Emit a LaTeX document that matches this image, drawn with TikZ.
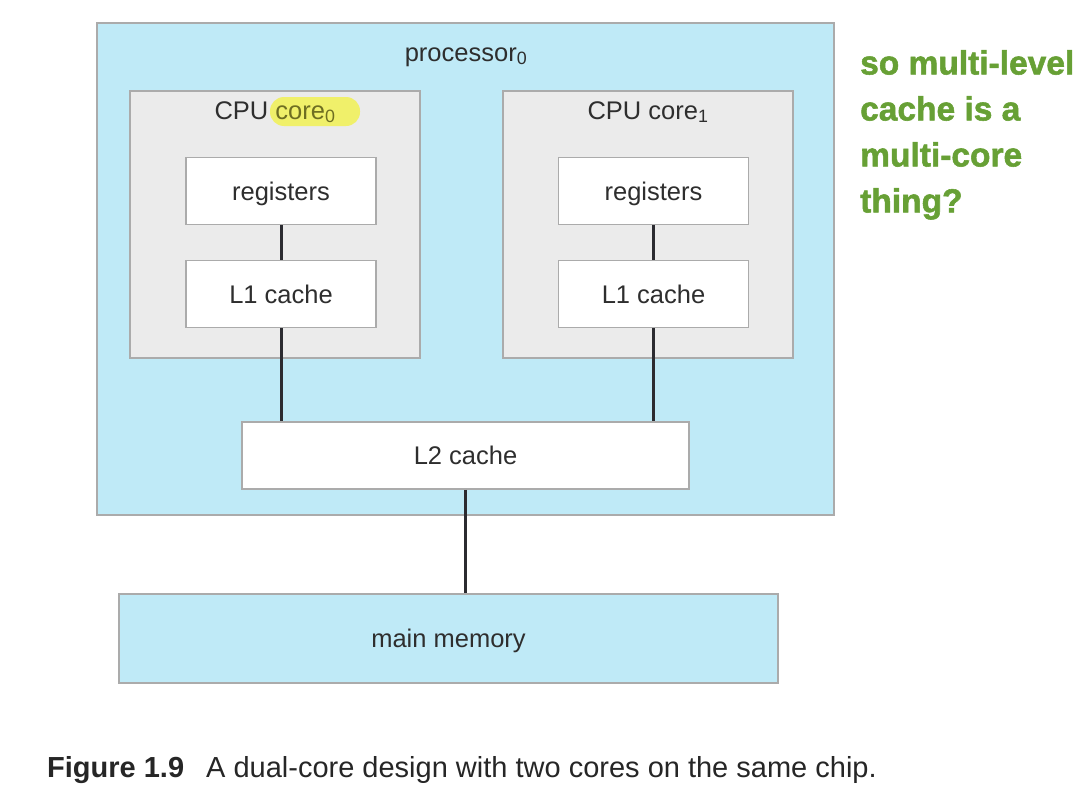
\documentclass[tikz,border=0pt]{standalone}
\usepackage{fontspec}
\setmainfont{Liberation Sans}
\newfontfamily\notefont{Liberation Sans}[FakeBold=1.6]
\usetikzlibrary{positioning}
\definecolor{chipblue}{HTML}{BFEAF7}
\definecolor{coregray}{HTML}{EBEBEB}
\definecolor{edgegray}{HTML}{ABABAB}
\definecolor{wiregray}{HTML}{2B2B30}
\definecolor{inkgray}{HTML}{2E2E2E}
\definecolor{notegreen}{HTML}{67A035}
\definecolor{hilite}{HTML}{F0F06A}
\definecolor{olivetext}{HTML}{6E6E22}

\begin{document}
\begin{tikzpicture}[x=1pt,y=-1pt,font=\fontsize{25.5}{30}\selectfont,text=inkgray]
    \tikzstyle{label}=[text height=18pt,text depth=0pt]
    \tikzstyle{chip}=[label,draw=edgegray,line width=2pt,fill=chipblue,inner sep=0pt]
    \tikzstyle{core}=[draw=edgegray,line width=2pt,fill=coregray,inner sep=0pt,minimum width=290,minimum height=267]
    \tikzstyle{unit}=[label,draw=edgegray,line width=1.6pt,fill=white,inner sep=0pt]
    \tikzstyle{cache}=[unit,minimum width=190,minimum height=67]
    \tikzstyle{wire}=[draw=wiregray,line width=3pt]

    \useasboundingbox (0,0) rectangle (1083,787);

    % Draw the chip
    \node[chip,minimum width=737,minimum height=492] (P) at (465.5,269) {};
    \node[label] (P-lab) at (466,52) {processor\textsubscript{0}};

    % Draw the two cores
    \foreach \c/\x in {0/275,1/647.5} {
        \node[core] (C-\c) at (\x,224.5) {};
        \node[cache] (R-\c) at (\x+6,191) {registers};
        \node[cache] (L1-\c) at (\x+6,294) {L1 cache};
        \draw[wire] (R-\c) -- (L1-\c);
    }
    \fill[hilite,rounded corners=14] (270,97) rectangle (360,126);
    \node[label] (C-0-lab) at (275,110) {CPU \textcolor{olivetext}{core\textsubscript{0}}};
    \node[label] (C-1-lab) at (648,110) {CPU core\textsubscript{1}};

    % Draw the shared cache and the memory
    \node[unit,minimum width=447,minimum height=67] (L2) at (465.5,455.5) {L2 cache};
    \node[chip,minimum width=659,minimum height=89] (M) at (448.5,638.5) {main memory};
    \foreach \c in {0,1}
        \draw[wire] (L1-\c.south) -- (L1-\c.south |- L2.north);
    \draw[wire] (L2.south) -- (L2.south |- M.north);

    \node[anchor=north west,align=left,inner sep=0pt,text=notegreen,font=\notefont\bfseries\fontsize{33.5}{46}\selectfont] (note) at (860,50) {so multi-level\\cache is a\\multi-core\\thing?};
    \node[anchor=base west,inner sep=0pt,text=black!85,font=\fontsize{29}{34}\selectfont] (cap) at (47,777) {\textbf{Figure 1.9}\hspace{22pt}A dual-core design with two cores on the same chip.};
\end{tikzpicture}
\end{document}
